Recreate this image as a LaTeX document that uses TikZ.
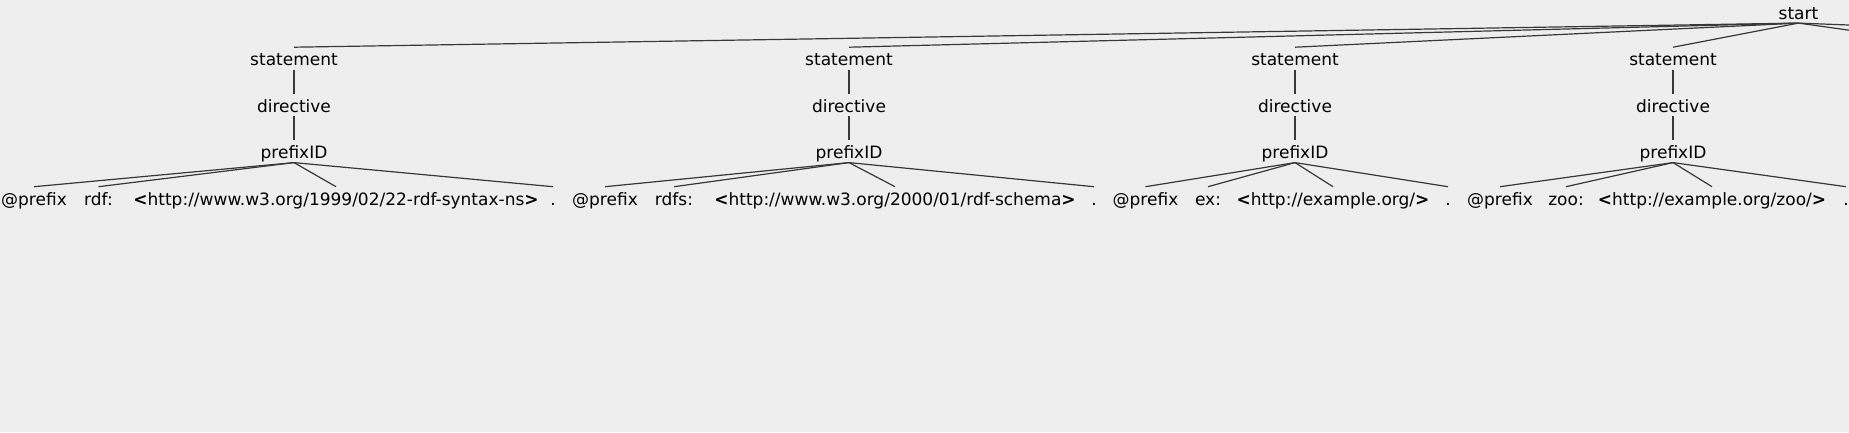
\documentclass[tikz,border=0pt]{standalone}
\usepackage{fontspec}
\setmainfont{DejaVu Sans}
\tikzset{every picture/.style={line width=1.2pt}}
\definecolor{bggray}{HTML}{EEEEEE}
\definecolor{edgegray}{HTML}{383838}
\newcommand{\lt}{{\bfseries<}}
\newcommand{\gt}{{\bfseries>}}

\begin{document}
\begin{tikzpicture}[x=1pt,y=-1pt,
  sym/.style={inner sep=0pt, anchor=base, text height=18pt, text depth=3.2pt,
    font=\fontsize{17}{20}\selectfont},
  every edge/.append style={draw=edgegray}]
\useasboundingbox (0,0) rectangle (1849,432);
\fill[bggray] (0,0) rectangle (1849,432);
\clip (0,0) rectangle (1849,432);

\node[sym] at (1798.5,19.3) (st) {start};
\coordinate (s5) at (1974,47.7);
\coordinate (s6) at (2450,47.7);

% @prefix rdf:
\node[sym] at (294,65.8)  (s1) {statement};
\node[sym] at (294,112.3) (d1) {directive};
\node[sym] at (294,158.8) (p1) {prefixID};
\node[sym] at (34,205.3)  (a1) {@prefix};
\node[sym] at (98.5,205.3) (b1) {rdf:};
\node[sym] at (336,205.3) (c1) {\lt http://www.w3.org/1999/02/22-rdf-syntax-ns\gt};
\node[sym] at (553,205.3) (e1) {.};

% @prefix rdfs:
\node[sym] at (849,65.8)  (s2) {statement};
\node[sym] at (849,112.3) (d2) {directive};
\node[sym] at (849,158.8) (p2) {prefixID};
\node[sym] at (605,205.3) (a2) {@prefix};
\node[sym] at (674,205.3) (b2) {rdfs:};
\node[sym] at (895,205.3) (c2) {\lt http://www.w3.org/2000/01/rdf-schema\gt};
\node[sym] at (1094,205.3) (e2) {.};

% @prefix ex:
\node[sym] at (1295,65.8)  (s3) {statement};
\node[sym] at (1295,112.3) (d3) {directive};
\node[sym] at (1295,158.8) (p3) {prefixID};
\node[sym] at (1145.5,205.3) (a3) {@prefix};
\node[sym] at (1208,205.3) (b3) {ex:};
\node[sym] at (1333,205.3) (c3) {\lt http://example.org/\gt};
\node[sym] at (1448,205.3) (e3) {.};

% @prefix zoo:
\node[sym] at (1673,65.8)  (s4) {statement};
\node[sym] at (1673,112.3) (d4) {directive};
\node[sym] at (1673,158.8) (p4) {prefixID};
\node[sym] at (1500,205.3) (a4) {@prefix};
\node[sym] at (1566,205.3) (b4) {zoo:};
\node[sym] at (1712,205.3) (c4) {\lt http://example.org/zoo/\gt};
\node[sym] at (1846,205.3) (e4) {.};

\path (st.south) edge (s1.north)
      (st.south) edge (s2.north)
      (st.south) edge (s3.north)
      (st.south) edge (s4.north)
      (st.south) edge (s5)
      (st.south) edge (s6);
\foreach \t in {1,2,3,4}{
  \path (s\t.south) edge (d\t.north)
        (d\t.south) edge (p\t.north)
        (p\t.south) edge (a\t.north)
        (p\t.south) edge (b\t.north)
        (p\t.south) edge (c\t.north)
        (p\t.south) edge (e\t.north);
}
\end{tikzpicture}
\end{document}
